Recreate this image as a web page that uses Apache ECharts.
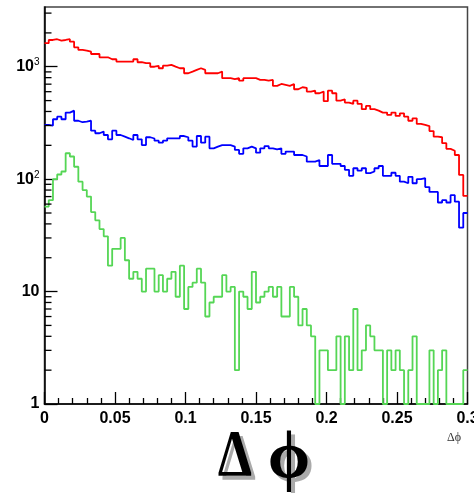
<!DOCTYPE html>
<html>
<head>
<meta charset="utf-8">
<script src="https://cdn.jsdelivr.net/npm/echarts@6/dist/echarts.min.js"></script>
<style>
html,body{margin:0;padding:0;background:#fff;}
#chart{width:474px;height:493px;}
</style>
</head>
<body>
<div id="chart"></div>
<script>
// Histogram range and binning
var xMin = 0, xMax = 0.3, nBins = 100;
var xTicks = [0, 0.05, 0.1, 0.15, 0.2, 0.25, 0.3];
var yMajorTicks = [1, 10, 100, 1000];
var yMinorTicks = [2,3,4,5,6,7,8,9,20,30,40,50,60,70,80,90,200,300,400,500,600,700,800,900,2000,3000];
var axisTitle = 'Δϕ';

// Bin contents (100 bins each)
var redCounts = [
 1619,1730,1757,1707,1730,1757,1671,1489,1410,1390,
 1361,1299,1299,1214,1214,1166,1166,1111,1111,1111,
 1111,1166,1097,1075,1075,1000,1020,970,1023,1038,
 1002,970,970,875,905,937,970,937,875,875,
 875,905,791,791,775,791,752,791,791,791,
 763,763,752,763,675,703,689,675,703,631,
 657,650,601,613,581,601,494,613,581,499,
 514,480,467,499,467,419,448,419,407,391,
 391,373,391,365,385,360,331,348,310,304,
 297,268,239,236,209,186,179,164,109,71
];
var blueCounts = [
 304,300,341,360,341,391,407,331,321,325,
 331,270,256,265,247,226,270,247,239,231,
 223,247,226,201,236,230,220,211,220,231,
 231,231,242,236,220,195,242,211,239,188,
 195,201,201,201,195,182,168,188,195,188,
 172,188,197,188,184,188,168,176,176,164,
 164,159,143,143,148,131,131,164,137,137,
 131,121,107,125,119,125,113,117,125,131,
 107,107,114,107,95,92,105,92,100,102,
 85,77,77,62,65,62,72,63,37,50
];
var greenCounts = [
 57,65,100,110,117,170,159,129,95,80,
 70,51,43,36,31,17,24,24,30,19,
 13,15,13,10,16,16,10,14,10,13,
 15,9,17,7,11,12,16,12,6,8,
 9,9,14,10,11,2,10,9,7,15,
 8,9,10,11,9,11,6,6,11,9,
 5,7,5,4,1,3,3,2,2,4,
 1,4,2,7,2,3,5,4,3,3,
 1,3,2,3,2,1,2,4,1,1,
 1,3,1,2,3,1,1,1,1,2
];

function fmtX(v) { return String(parseFloat(v.toFixed(2))); }

function histPoints(counts) {
  var w = (xMax - xMin) / counts.length;
  var pts = [];
  for (var i = 0; i < counts.length; i++) pts.push([xMin + i * w, counts[i]]);
  pts.push([xMax, counts[counts.length - 1]]);
  return pts;
}

function histSeries(counts, color) {
  return {
    type: 'line', step: 'end', data: histPoints(counts),
    showSymbol: false, symbol: 'none', clip: false,
    lineStyle: { color: color, width: 1.8 },
    z: 3, silent: true
  };
}

function bigGlyph(ch, x, y, size, sx, fill, z, family) {
  return {
    type: 'text', x: x, y: y, scaleX: sx, z: z,
    style: { text: ch, fontSize: size, fontWeight: 'bold', fontFamily: family,
             fill: fill, align: 'center', verticalAlign: 'middle' }
  };
}

var serif = '"Liberation Serif", "DejaVu Serif", serif';
var labelFont = '"Liberation Sans", Arial, sans-serif';

var chart = echarts.init(document.getElementById('chart'), null, { renderer: 'canvas' });
var option = {
  animation: false,
  backgroundColor: '#ffffff',
  grid: {
    left: 44.5, right: 6.5, top: 7, bottom: 89,
    show: true, borderColor: '#444', borderWidth: 1.5, backgroundColor: 'transparent'
  },
  xAxis: {
    type: 'value', min: xMin, max: xMax, interval: 0.05,
    axisLine: { show: true, onZero: false, lineStyle: { color: '#000', width: 1.5 } },
    axisTick: { show: true, inside: true, length: 12, lineStyle: { color: '#000', width: 1.3 } },
    minorTick: { show: true, splitNumber: 5, length: 6, lineStyle: { color: '#000', width: 1.3 } },
    splitLine: { show: false },
    axisLabel: {
      margin: 7, color: '#000', fontSize: 16, fontWeight: 'bold',
      fontFamily: labelFont, showMaxLabel: false,
      formatter: fmtX
    }
  },
  yAxis: {
    type: 'log', logBase: 10, min: 1, max: 3400,
    axisLine: { show: true, onZero: false, lineStyle: { color: '#000', width: 1.5 } },
    axisTick: { show: true, inside: true, length: 13, lineStyle: { color: '#000', width: 1.3 } },
    splitLine: { show: false },
    axisLabel: {
      margin: 5, color: '#000', fontSize: 16, fontWeight: 'bold',
      fontFamily: labelFont,
      showMaxLabel: false,
      formatter: function (v) {
        var e = Math.round(Math.log10(v));
        if (e >= 2) return '{b|10}{s|' + e + '}';
        return '{b|' + Math.round(v) + '}';
      },
      rich: {
        b: { fontSize: 16, fontWeight: 'bold', fontFamily: labelFont, color: '#000' },
        s: { fontSize: 10, fontWeight: 'normal', fontFamily: labelFont, color: '#000', verticalAlign: 'top', padding: [0, 0, 8, 0] }
      }
    }
  },
  series: [
    histSeries(redCounts, '#ff0000'),
    histSeries(blueCounts, '#0000ff'),
    histSeries(greenCounts, '#55d655'),
    {
      // minor ticks of the log axis (2..9 in each decade)
      type: 'custom', silent: true, z: 4, clip: false,
      data: yMinorTicks.map(function (v) { return [xMin, v]; }),
      renderItem: function (params, api) {
        var p = api.coord([api.value(0), api.value(1)]);
        return {
          type: 'line',
          shape: { x1: p[0], y1: p[1], x2: p[0] + 7, y2: p[1] },
          style: { stroke: '#000', lineWidth: 1.3 }
        };
      }
    },
    {
      // last x tick label, centred on its tick (runs off the page edge as in the original)
      type: 'custom', silent: true, z: 5, clip: false,
      data: [[xTicks[xTicks.length - 1], yMajorTicks[0]]],
      renderItem: function (params, api) {
        var p = api.coord([api.value(0), api.value(1)]);
        return {
          type: 'text',
          x: p[0], y: p[1] + 7,
          style: { text: fmtX(api.value(0)), fontSize: 16, fontWeight: 'bold', fontFamily: labelFont,
                   fill: '#000', align: 'center', verticalAlign: 'top' }
        };
      }
    }
  ],
  graphic: [
    { type: 'text', left: 447, top: 432, z: 10,
      style: { text: axisTitle, fontSize: 12, fontFamily: serif, fill: '#333' } },
    bigGlyph(axisTitle.charAt(0), 239, 462, 66, 0.83, '#aaaaaa', 10, serif),
    bigGlyph(axisTitle.charAt(1), 293, 464, 68, 1.0, '#aaaaaa', 10, serif),
    bigGlyph(axisTitle.charAt(0), 235, 458, 66, 0.83, '#000000', 11, serif),
    bigGlyph(axisTitle.charAt(1), 289, 460, 68, 1.0, '#000000', 11, serif)
  ]
};
chart.setOption(option);
</script>
</body>
</html>
